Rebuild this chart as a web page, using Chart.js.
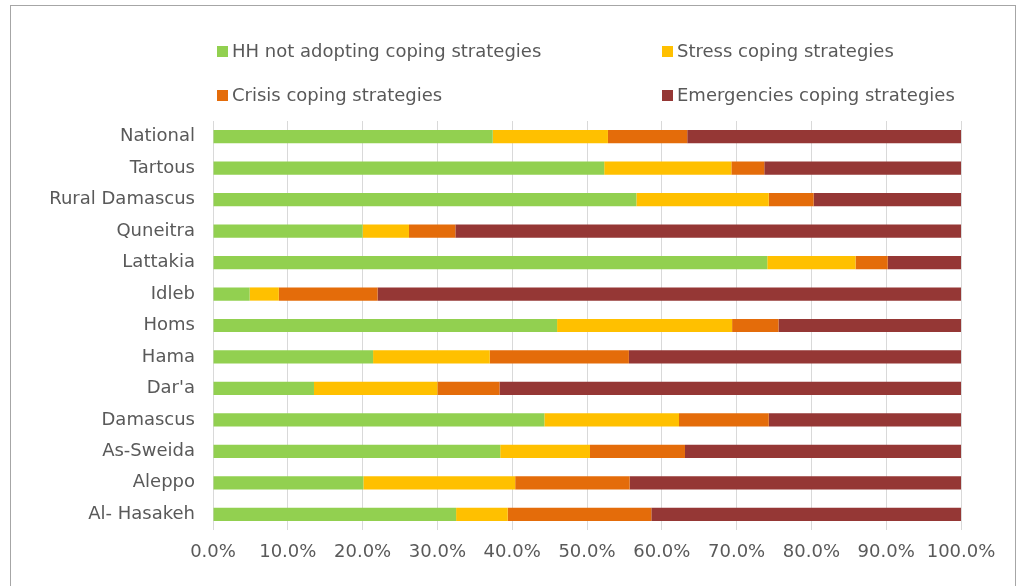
<!DOCTYPE html>
<html>
<head>
<meta charset="utf-8">
<script src="https://cdn.jsdelivr.net/npm/chart.js@4/dist/chart.umd.min.js"></script>
<style>
    body { margin: 0; background: #fff; }
    #wrap { position: relative; width: 1016px; height: 586px; overflow: hidden; }
    #frame { position: absolute; left: 10px; top: 5px; width: 1004px; height: 620px; border: 1px solid #a6a6a6; }
    #legend { position: absolute; left: 0; top: 0; font-family: "DejaVu Sans", Verdana, sans-serif; font-size: 18px; color: #595959; }
    .item { position: absolute; white-space: nowrap; line-height: 20px; }
    .box { display: inline-block; width: 11px; height: 11px; margin-right: 4px; vertical-align: 0px; }
    canvas { position: absolute; left: 0; top: 0; }
</style>
</head>
<body>
<div id="wrap">
    <div id="frame"></div>
    <canvas id="copingChart" width="1016" height="586"></canvas>
    <div id="legend"></div>
</div>
<script>
// Change Label & Data Set Here
var regions = ['National', 'Tartous', 'Rural Damascus', 'Quneitra', 'Lattakia', 'Idleb', 'Homs',
    'Hama', "Dar'a", 'Damascus', 'As-Sweida', 'Aleppo', 'Al- Hasakeh'];
var noCoping = [37.4, 52.3, 56.6, 20.0, 74.1, 4.9, 46.0, 21.4, 13.5, 44.3, 38.4, 20.1, 32.5];
var stressCoping = [15.4, 17.0, 17.7, 6.2, 11.8, 3.9, 23.4, 15.6, 16.5, 18.0, 12.0, 20.3, 6.9];
var crisisCoping = [10.6, 4.4, 6.0, 6.2, 4.3, 13.2, 6.2, 18.6, 8.3, 12.0, 12.7, 15.3, 19.2];
var emergencyCoping = [36.6, 26.3, 19.7, 67.6, 9.8, 78.0, 24.4, 44.4, 61.7, 25.7, 36.9, 44.3, 41.4];
var xTicks = [0, 10, 20, 30, 40, 50, 60, 70, 80, 90, 100];

var textColor = '#595959';
var fontFamily = '"DejaVu Sans", Verdana, sans-serif';

/**
 * One stacked bar series
 */
function barSet(label, data, color) {
    return {
        label: label,
        data: data,
        backgroundColor: color,
        borderWidth: 0,
        barPercentage: 0.42,
        categoryPercentage: 1.0,
    };
}

var chartData = {
    labels: regions,
    datasets: [
        barSet('HH not adopting coping strategies', noCoping, '#92d050'),
        barSet('Stress coping strategies', stressCoping, '#ffc000'),
        barSet('Crisis coping strategies', crisisCoping, '#e46c0a'),
        barSet('Emergencies coping strategies', emergencyCoping, '#953735'),
    ]
};

const copingChart = new Chart(document.getElementById('copingChart'), {
    type: 'bar',
    data: chartData,
    options: {
        indexAxis: 'y',
        responsive: false,
        animation: false,
        layout: {
            padding: { left: 0, top: 121, right: 55, bottom: 0 }
        },
        plugins: {
            legend: { display: false },
            tooltip: { enabled: false },
        },
        scales: {
            x: {
                stacked: true,
                min: 0,
                max: 100,
                afterBuildTicks: (scale) => {
                    scale.ticks = xTicks.map(v => ({ value: v }));
                },
                afterFit: (scale) => { scale.height = 56; },
                ticks: {
                    color: textColor,
                    font: { family: fontFamily, size: 18 },
                    padding: 12,
                    maxRotation: 0,
                    callback: (v) => Number(v).toFixed(1) + '%',
                },
                grid: {
                    color: '#d9d9d9',
                    lineWidth: 1,
                    drawTicks: false,
                },
                border: { display: false },
            },
            y: {
                stacked: true,
                afterFit: (scale) => { scale.width = 213; },
                ticks: {
                    color: textColor,
                    font: { family: fontFamily, size: 18 },
                    padding: 18,
                    autoSkip: false,
                },
                grid: { display: false, drawTicks: false },
                border: { display: false },
            }
        }
    }
});

// Legend in two columns, like the original
var legendPos = [[217, 41], [662, 41], [217, 85], [662, 85]];
var legendEl = document.getElementById('legend');
chartData.datasets.forEach(function (ds, i) {
    var item = document.createElement('div');
    item.className = 'item';
    item.style.left = legendPos[i][0] + 'px';
    item.style.top = legendPos[i][1] + 'px';
    item.innerHTML = '<span class="box" style="background:' + ds.backgroundColor + '"></span>' + ds.label;
    legendEl.appendChild(item);
});
</script>
</body>
</html>
